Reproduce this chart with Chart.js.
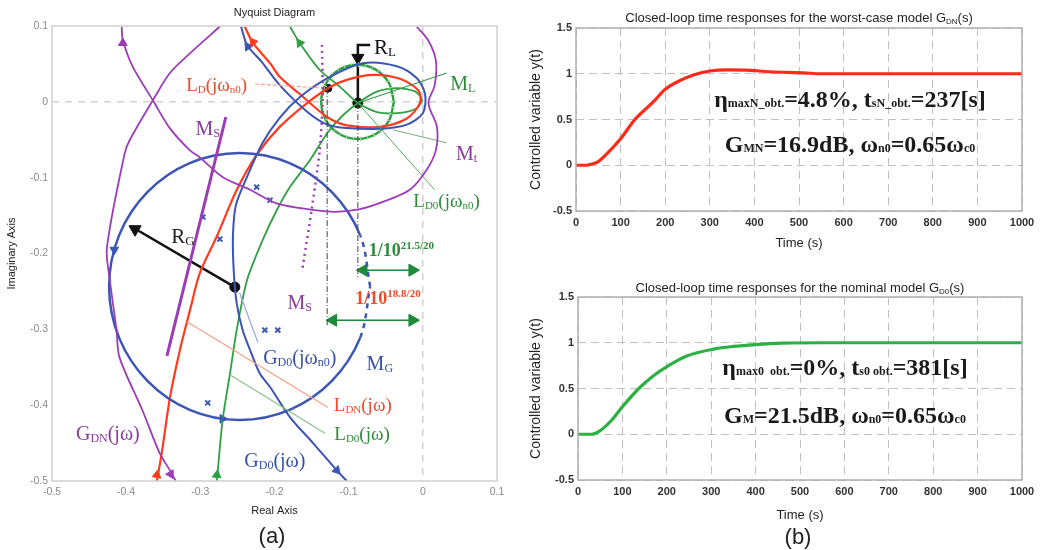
<!DOCTYPE html>
<html><head><meta charset="utf-8">
<script src="https://cdn.jsdelivr.net/npm/chart.js@4.4.1/dist/chart.umd.min.js"></script>
<style>
html,body{margin:0;padding:0;background:#fff;width:1054px;height:550px;overflow:hidden}
canvas{position:absolute}
#cA{left:0;top:0}
#cB{left:520px;top:0}
#cC{left:520px;top:270px}
</style></head><body>
<canvas id="cA" width="520" height="550"></canvas>
<canvas id="cB" width="534" height="270"></canvas>
<canvas id="cC" width="534" height="280"></canvas>
<script>
// ---------------- DATA ----------------
// Nyquist diagram tick labels
const nyqXTickValues = [-0.5,-0.4,-0.3,-0.2,-0.1,0,0.1];
const nyqXTickLabels = ['-0.5','-0.4','-0.3','-0.2','-0.1','0','0.1'];
const nyqYTickValues = [-0.5,-0.4,-0.3,-0.2,-0.1,0,0.1];
const nyqYTickLabels = ['-0.5','-0.4','-0.3','-0.2','-0.1','0','0.1'];

// G_DN(jω) (purple)
const gdnCurve = [[-0.274,0.099],[-0.314,0.064],[-0.341,0.038],[-0.364,0.002],[-0.395,-0.050],[-0.402,-0.068],[-0.426,-0.193],[-0.422,-0.235],[-0.413,-0.301],[-0.409,-0.337],[-0.378,-0.407],[-0.355,-0.463],[-0.341,-0.486],[-0.333,-0.500]];
// Mt locus (purple loop)
const mtCurve = [[-0.406,0.099],[-0.4045,0.0815],[-0.391,0.046],[-0.364,0.002],[-0.341,-0.035],[-0.314,-0.064],[-0.301,-0.073],[-0.270,-0.099],[-0.233,-0.116],[-0.197,-0.134],[-0.166,-0.140],[-0.121,-0.145],[-0.085,-0.1415],[-0.054,-0.132],[-0.0175,-0.116],[0.005,-0.090],[0.0175,-0.064],[0.019,-0.033],[0.009,-0.008],[0.008,0.002],[0.016,0.022],[0.0175,0.055],[0.007,0.0815],[-0.008,0.099]];
// Ms straight line (purple solid) and Ms dotted line
const msLine = [[-0.2656,-0.020],[-0.345,-0.335]];
const msDotted = [[-0.136,0.075],[-0.135,0.002],[-0.139,-0.064],[-0.150,-0.143],[-0.163,-0.224]];
// MG circle (blue)
const mgCircle = [[-0.071,-0.2435],[-0.0844,-0.1761],[-0.1226,-0.1191],[-0.1796,-0.0809],[-0.247,-0.0675],[-0.3144,-0.0809],[-0.3714,-0.1191],[-0.4096,-0.1761],[-0.423,-0.2435],[-0.4096,-0.3109],[-0.3714,-0.3679],[-0.3144,-0.4061],[-0.247,-0.4195],[-0.1796,-0.4061],[-0.1226,-0.3679],[-0.0844,-0.3109],[-0.071,-0.2435]];
// G_D0(jω) (blue)
const gd0Curve = [[-0.1025,-0.500],[-0.116,-0.486],[-0.148,-0.450],[-0.179,-0.416],[-0.206,-0.376],[-0.220,-0.358],[-0.233,-0.327],[-0.243,-0.301],[-0.251,-0.2655],[-0.255,-0.222],[-0.256,-0.176],[-0.252,-0.136],[-0.237,-0.099],[-0.216,-0.054],[-0.193,-0.021],[-0.166,0.006],[-0.129,0.031],[-0.081,0.051],[-0.035,0.047],[-0.008,0.031],[0.003,0.010],[0.000,-0.015],[-0.0216,-0.030],[-0.058,-0.0356],[-0.1025,-0.0346],[-0.129,-0.030],[-0.156,-0.013],[-0.193,0.022],[-0.217,0.0525],[-0.237,0.075],[-0.245,0.099]];
// L_DN(jω) (red)
const ldnCurve = [[-0.3586,-0.500],[-0.352,-0.463],[-0.341,-0.390],[-0.3276,-0.3275],[-0.314,-0.275],[-0.3007,-0.226],[-0.278,-0.178],[-0.251,-0.1164],[-0.224,-0.070],[-0.193,-0.033],[-0.156,-0.0016],[-0.125,0.0195],[-0.1025,0.029],[-0.067,0.0355],[-0.030,0.030],[-0.006,0.015],[-0.004,-0.0016],[-0.0216,-0.022],[-0.058,-0.033],[-0.1025,-0.031],[-0.129,-0.020],[-0.166,0.0103],[-0.193,0.033],[-0.206,0.051],[-0.229,0.0776],[-0.240,0.099]];
// L_D0(jω) (green)
const ld0Curve = [[-0.2777,-0.500],[-0.270,-0.4198],[-0.260,-0.358],[-0.251,-0.301],[-0.237,-0.235],[-0.216,-0.1824],[-0.197,-0.143],[-0.179,-0.112],[-0.1524,-0.077],[-0.128,-0.040],[-0.108,-0.018],[-0.0876,-0.0016],[-0.062,0.0135],[-0.035,0.018],[-0.010,0.0135],[-0.001,0.002],[-0.010,-0.0095],[-0.035,-0.015],[-0.062,-0.0135],[-0.0876,-0.0016],[-0.112,0.020],[-0.139,0.042],[-0.166,0.0776],[-0.179,0.099]];
// ML circle (green)
const mlCircle = [[-0.039,0.000],[-0.0455,0.0245],[-0.0635,0.0425],[-0.088,0.049],[-0.1125,0.0425],[-0.1305,0.0245],[-0.137,0.000],[-0.1305,-0.0245],[-0.1125,-0.0425],[-0.088,-0.049],[-0.0635,-0.0425],[-0.0455,-0.0245],[-0.039,0.000]];
// black construction elements
const rlLine = [[-0.0876,-0.0016],[-0.0876,0.075],[-0.071,0.075]];
const rgLine = [[-0.2535,-0.2443],[-0.392,-0.165]];
const vLineA = [[-0.129,0.018],[-0.129,-0.295]];
const vLineB = [[-0.0876,-0.0016],[-0.0876,-0.231]];
const blackDots = [[-0.0876,-0.0016],[-0.128,0.018],[-0.2535,-0.2443]];
const blackHeads = [[-0.0876,0.058],[-0.388,-0.168]];
// green double arrows (gain margin 21.5 dB / 18.8 dB)
const gmArrowTop = [[-0.088,-0.222],[-0.006,-0.222]];
const gmArrowBottom = [[-0.129,-0.288],[-0.006,-0.288]];
const gmHeads = [[-0.080,-0.222],[-0.014,-0.222],[-0.121,-0.288],[-0.014,-0.288]];
// pointer lines
const ptrLDN = [[-0.318,-0.290],[-0.128,-0.403]];
const ptrLD0 = [[-0.260,-0.360],[-0.132,-0.437]];
const ptrGD0n = [[-0.247,-0.252],[-0.2225,-0.317]];
const ptrLD0n = [[-0.0876,-0.0016],[0.016,-0.116]];
const ptrML = [[-0.0876,-0.0016],[0.032,0.038]];
const ptrMt = [[-0.040,-0.037],[0.032,-0.054]];
const ptrLDn = [[-0.2265,0.0235],[-0.129,0.018]];
// frequency marks (blue crosses)
const crossMarks = [[-0.2966,-0.152],[-0.2737,-0.181],[-0.224,-0.1124],[-0.206,-0.1296],[-0.213,-0.301],[-0.1955,-0.301],[-0.290,-0.397]];
// direction arrows on curves
const purpleHeads = [[-0.4045,0.0776],[-0.340,-0.491]];
const redHeads = [[-0.229,0.079],[-0.3586,-0.492]];
const blueHeads = [[-0.236,0.073],[-0.116,-0.486],[-0.270,-0.418],[-0.416,-0.195]];
const greenHeads = [[-0.166,0.0776],[-0.2777,-0.492]];

// time responses
const respXTickValues = [0,100,200,300,400,500,600,700,800,900,1000];
const respXTickLabels = ['0','100','200','300','400','500','600','700','800','900','1000'];
const respYTickValues = [-0.5,0,0.5,1,1.5];
const respYTickLabels = ['-0.5','0','0.5','1','1.5'];
const worstT = [0,20,40,50,70,100,132,175,200,235,265,300,340,380,435,510,550,600,700,800,900,1000];
const worstY = [0,0,0.02,0.04,0.13,0.29,0.50,0.70,0.83,0.93,0.99,1.03,1.042,1.04,1.022,1.01,1.0,1.0,1.0,1.0,1.0,1.0];
const nomT = [0,30,50,75,100,137,170,204,245,305,350,400,460,550,700,1000];
const nomY = [0,0,0.04,0.15,0.30,0.50,0.64,0.75,0.855,0.93,0.96,0.98,0.995,1.0,1.0,1.0];

// ---------------- TEXT ----------------
const nyqLabels = [
  {t:'R_{L}', x:-0.051, y:0.072, c:'#111', s:21},
  {t:'M_{L}', x:0.054, y:0.0248, c:'#2e8b3a', s:20},
  {t:'M_{t}', x:0.059, y:-0.068, c:'#8b3a9e', s:20},
  {t:'L_{D0}(jω_{n0})', x:0.032, y:-0.130, c:'#2e8b3a', s:19},
  {t:'L_{D}(jω_{n0})', x:-0.278, y:0.022, c:'#f04a2a', s:19},
  {t:'M_{S}', x:-0.290, y:-0.0346, c:'#8b3a9e', s:20},
  {t:'R_{G}', x:-0.3236, y:-0.177, c:'#222', s:21},
  {t:'M_{S}', x:-0.166, y:-0.264, c:'#8b3a9e', s:20},
  {t:'1/10^{21.5/20}', x:-0.029, y:-0.1956, c:'#2e8b3a', s:18, w:'bold'},
  {t:'1/10^{18.8/20}', x:-0.047, y:-0.259, c:'#f04a2a', s:18, w:'bold'},
  {t:'G_{D0}(jω_{n0})', x:-0.166, y:-0.337, c:'#3550a8', s:20},
  {t:'M_{G}', x:-0.058, y:-0.345, c:'#3550a8', s:20},
  {t:'L_{DN}(jω)', x:-0.081, y:-0.400, c:'#f04a2a', s:19},
  {t:'L_{D0}(jω)', x:-0.082, y:-0.438, c:'#2e8b3a', s:19},
  {t:'G_{DN}(jω)', x:-0.4247, y:-0.437, c:'#8b3a9e', s:20},
  {t:'G_{D0}(jω)', x:-0.1995, y:-0.473, c:'#3550a8', s:20}
];
const worstTitle = 'Closed-loop time responses for the worst-case model G_{DN}(s)';
const nomTitle = 'Closed-loop time responses for the nominal model G_{D0}(s)';
const worstNotes = ['η_{maxN_obt.}=4.8%, t_{sN_obt.}=237[s]', 'G_{MN}=16.9dB, ω_{n0}=0.65ω_{c0}'];
const nomNotes = ['η_{max0  obt.}=0%, t_{s0 obt.}=381[s]', 'G_{M}=21.5dB, ω_{n0}=0.65ω_{c0}'];

// ---------------- HELPERS ----------------
function parseRich(s){
  const parts=[]; const re=/([_^])\{([^}]*)\}/g; let last=0,m;
  while((m=re.exec(s))){ if(m.index>last) parts.push([s.slice(last,m.index),'']); parts.push([m[2], m[1]==='_'?'sub':'sup']); last=re.lastIndex; }
  if(last<s.length) parts.push([s.slice(last),'']);
  return parts;
}
function drawRich(ctx, x, yMid, str, size, color, family, weight, align, subRatio, subDrop){
  const parts = parseRich(str);
  const sr = subRatio || 0.6, sd = (subDrop===undefined) ? 0.1 : subDrop;
  const fontFor = k => `${weight||'normal'} ${k? Math.round(size*sr):size}px ${family}`;
  let w=0;
  for(const [t,k] of parts){ ctx.font=fontFor(k); w+=ctx.measureText(t).width; }
  let cx = align==='left'? x : align==='right'? x-w : x-w/2;
  const base = yMid + size*0.33;
  ctx.fillStyle=color; ctx.textAlign='left'; ctx.textBaseline='alphabetic';
  for(const [t,k] of parts){
    ctx.font=fontFor(k);
    const dy = k==='sub' ? size*sd : k==='sup' ? -size*0.42 : 0;
    ctx.fillText(t, cx, base+dy);
    cx += ctx.measureText(t).width;
  }
}
const pts = a => a.map(p=>({x:p[0], y:p[1]}));
const xy = (xs,ys) => xs.map((v,i)=>({x:v, y:ys[i]}));
function line(data, color, width, extra){
  return Object.assign({data:pts(data), showLine:true, borderColor:color, borderWidth:width, pointRadius:0, tension:0.3, fill:false}, extra||{});
}
function heads(data, color, radius, rot){
  return {data:pts(data), showLine:false, pointStyle:'triangle', pointRadius:radius, rotation:rot, backgroundColor:color, borderColor:color, borderWidth:1};
}

const C_BLUE='#3a55b4', C_RED='#ff3b1f', C_GREEN='#2ea043', C_PURPLE='#9c3db5';

// ---------------- NYQUIST CHART ----------------
const nyqPlugin = {
  id:'nyqText',
  afterDatasetsDraw(chart){
    const {ctx, chartArea:a, scales:{x,y}} = chart;
    ctx.save();
    ctx.strokeStyle='#cfcfcf'; ctx.lineWidth=1.5;
    ctx.strokeRect(a.left, a.top, a.right-a.left, a.bottom-a.top);
    for(const L of nyqLabels){
      drawRich(ctx, x.getPixelForValue(L.x), y.getPixelForValue(L.y), L.t, L.s, L.c, '"Liberation Serif"', L.w, 'center');
    }
    ctx.fillStyle='#222'; ctx.textAlign='center'; ctx.textBaseline='middle';
    ctx.font='11px "Liberation Sans"';
    ctx.fillText('Nyquist Diagram', (a.left+a.right)/2, 13);
    ctx.fillText('Real Axis', (a.left+a.right)/2, 511);
    ctx.save(); ctx.translate(12,(a.top+a.bottom)/2); ctx.rotate(-Math.PI/2);
    ctx.fillText('Imaginary Axis', 0, 0); ctx.restore();
    ctx.font='22px "Liberation Sans"'; ctx.fillStyle='#222';
    ctx.fillText('(a)', 272, 537);
    ctx.restore();
  }
};
new Chart(document.getElementById('cA'), {
  type:'scatter',
  data:{datasets:[
    line(mtCurve, C_PURPLE, 1.8),
    line(gdnCurve, C_PURPLE, 1.8),
    line(msLine, C_PURPLE, 3, {tension:0}),
    line(msDotted, C_PURPLE, 2.5, {borderDash:[2,4], tension:0.2}),
    line(vLineA, '#444', 1, {borderDash:[6,2,1,2], tension:0}),
    line(vLineB, '#444', 1, {borderDash:[6,2,1,2], tension:0}),
    line(ptrLDN, '#f7a080', 1.2, {tension:0}),
    line(ptrLD0, '#8cc08c', 1.2, {tension:0}),
    line(ptrGD0n, '#9aa8dd', 1.2, {tension:0}),
    line(ptrLD0n, '#5aa860', 1, {tension:0}),
    line(ptrML, '#3a9a45', 1.2, {tension:0}),
    line(ptrMt, '#7ab07a', 1, {tension:0}),
    line(ptrLDn, '#f4a58a', 1.2, {borderDash:[4,2], tension:0}),
    line(mgCircle, C_BLUE, 2.5, {tension:0.33, segment:{borderDash: c => (c.p0DataIndex===0 || c.p0DataIndex===15) ? [5,5] : undefined}}),
    line(gd0Curve, C_BLUE, 2),
    line(ldnCurve, C_RED, 2.2),
    line(mlCircle, '#a8d8a8', 5, {tension:0.33, borderDash:[1,6]}),
    line(mlCircle, C_GREEN, 2.4, {tension:0.33}),
    line(ld0Curve, C_GREEN, 1.8, {tension:0.25}),
    line(rlLine, '#111', 2.5, {tension:0}),
    line(rgLine, '#111', 2.5, {tension:0}),
    line(gmArrowTop, '#1e8a3a', 1.5, {tension:0}),
    line(gmArrowBottom, '#1e8a3a', 1.5, {tension:0}),
    heads(gmHeads, '#1e8a3a', 7, [270,90,270,90]),
    heads(blackHeads, '#111', 7, [180,-60]),
    heads(purpleHeads, C_PURPLE, 5, [0,150]),
    heads(redHeads, C_RED, 5, [-37,10]),
    heads(blueHeads, C_BLUE, 5, [-35,138,90,180]),
    heads(greenHeads, C_GREEN, 5, [-35,5]),
    {data:pts(crossMarks), showLine:false, pointStyle:'crossRot', pointRadius:3.5, borderColor:C_BLUE, borderWidth:2},
    {data:pts(blackDots), showLine:false, pointStyle:'circle', pointRadius:[5,4,5], backgroundColor:'#111', borderColor:'#111'}
  ]},
  options:{
    responsive:false, animation:false, devicePixelRatio:1,
    layout:{padding:{left:0, right:23, top:26, bottom:50}},
    plugins:{legend:{display:false}, tooltip:{enabled:false}},
    scales:{
      x:{type:'linear', min:-0.5, max:0.1,
        afterFit(s){s.height=19;},
        afterBuildTicks(s){s.ticks=nyqXTickValues.map(v=>({value:v}));},
        ticks:{callback:(v,i)=>nyqXTickLabels[i], color:'#8a8a8a', font:{size:10.5, family:'Liberation Sans'}, maxRotation:0, autoSkip:false, padding:5},
        grid:{color:c=>(c.tick && c.tick.value===0)?'#d2d2d2':'rgba(0,0,0,0)', lineWidth:1.5, drawTicks:false},
        border:{display:false, dash:[7,6]}},
      y:{type:'linear', min:-0.5, max:0.1,
        afterFit(s){s.width=52;},
        afterBuildTicks(s){s.ticks=nyqYTickValues.map(v=>({value:v}));},
        ticks:{callback:(v,i)=>nyqYTickLabels[i], color:'#8a8a8a', font:{size:10.5, family:'Liberation Sans'}, autoSkip:false, padding:4},
        grid:{color:c=>(c.tick && c.tick.value===0)?'#d2d2d2':'rgba(0,0,0,0)', lineWidth:1.5, drawTicks:false},
        border:{display:false, dash:[7,6]}}
    }
  },
  plugins:[nyqPlugin]
});

// ---------------- TIME RESPONSE CHARTS ----------------
function respChart(id, t, yv, color, title, notes, opt){
  const plug = {
    id:'respText'+id,
    afterDatasetsDraw(chart){
      const {ctx, chartArea:a} = chart;
      ctx.save();
      ctx.strokeStyle='#b0b0b0'; ctx.lineWidth=1.5;
      ctx.strokeRect(a.left, a.top, a.right-a.left, a.bottom-a.top);
      drawRich(ctx, (a.left+a.right)/2, opt.titleY, title, 13, '#222', '"Liberation Sans"', 'normal', 'center');
      ctx.fillStyle='#222'; ctx.textAlign='center'; ctx.textBaseline='middle';
      ctx.font='13px "Liberation Sans"';
      ctx.fillText('Time (s)', (a.left+a.right)/2, opt.xTitleY);
      ctx.font='14px "Liberation Sans"';
      ctx.save(); ctx.translate(16,(a.top+a.bottom)/2); ctx.rotate(-Math.PI/2);
      ctx.fillText('Controlled variable y(t)', 0, 0); ctx.restore();
      drawRich(ctx, opt.noteX, opt.note1Y, notes[0], 24, '#1a1a1a', '"Liberation Serif"', 'bold', 'center', 0.5, 0.02);
      drawRich(ctx, opt.noteX, opt.note2Y, notes[1], 24, '#1a1a1a', '"Liberation Serif"', 'bold', 'center', 0.5, 0.02);
      if(opt.tag){ ctx.font='22px "Liberation Sans"'; ctx.fillStyle='#222'; ctx.textAlign='center'; ctx.textBaseline='middle'; ctx.fillText(opt.tag, opt.tagX, opt.tagY); }
      ctx.restore();
    }
  };
  const tickFont = {size:11, family:'Liberation Sans', weight:'bold'};
  new Chart(document.getElementById(id), {
    type:'scatter',
    data:{datasets:[{data:xy(t,yv), showLine:true, borderColor:color, borderWidth:3.2, pointRadius:0, cubicInterpolationMode:'monotone', fill:false}]},
    options:{
      responsive:false, animation:false, devicePixelRatio:1,
      layout:{padding:{left:0, right:32, top:opt.top, bottom:opt.bottom}},
      plugins:{legend:{display:false}, tooltip:{enabled:false}},
      scales:{
        x:{type:'linear', min:0, max:1000,
          afterFit(s){s.height=20;},
          afterBuildTicks(s){s.ticks=respXTickValues.map(v=>({value:v}));},
          ticks:{callback:(v,i)=>respXTickLabels[i], color:'#333', font:tickFont, maxRotation:0, autoSkip:false, padding:5},
          grid:{color:'#c0c0c0', lineWidth:1, drawTicks:false},
          border:{display:false, dash:[8,5]}},
        y:{type:'linear', min:-0.5, max:1.5,
          afterFit(s){s.width=opt.yw;},
          afterBuildTicks(s){s.ticks=respYTickValues.map(v=>({value:v}));},
          ticks:{callback:(v,i)=>respYTickLabels[i], color:'#333', font:tickFont, autoSkip:false, padding:4},
          grid:{color:'#c0c0c0', lineWidth:1, drawTicks:false},
          border:{display:false, dash:[8,5]}}
      }
    },
    plugins:[plug]
  });
}
respChart('cB', worstT, worstY, '#ff2a1a', worstTitle, worstNotes,
  {top:28, bottom:39, yw:56, titleY:18, xTitleY:243, noteX:330, note1Y:99, note2Y:144});
respChart('cC', nomT, nomY, '#2cb044', nomTitle, nomNotes,
  {top:27, bottom:50, yw:58, titleY:18, xTitleY:245, noteX:325, note1Y:97, note2Y:145, tag:'(b)', tagX:278, tagY:268});
</script>
</body></html>
